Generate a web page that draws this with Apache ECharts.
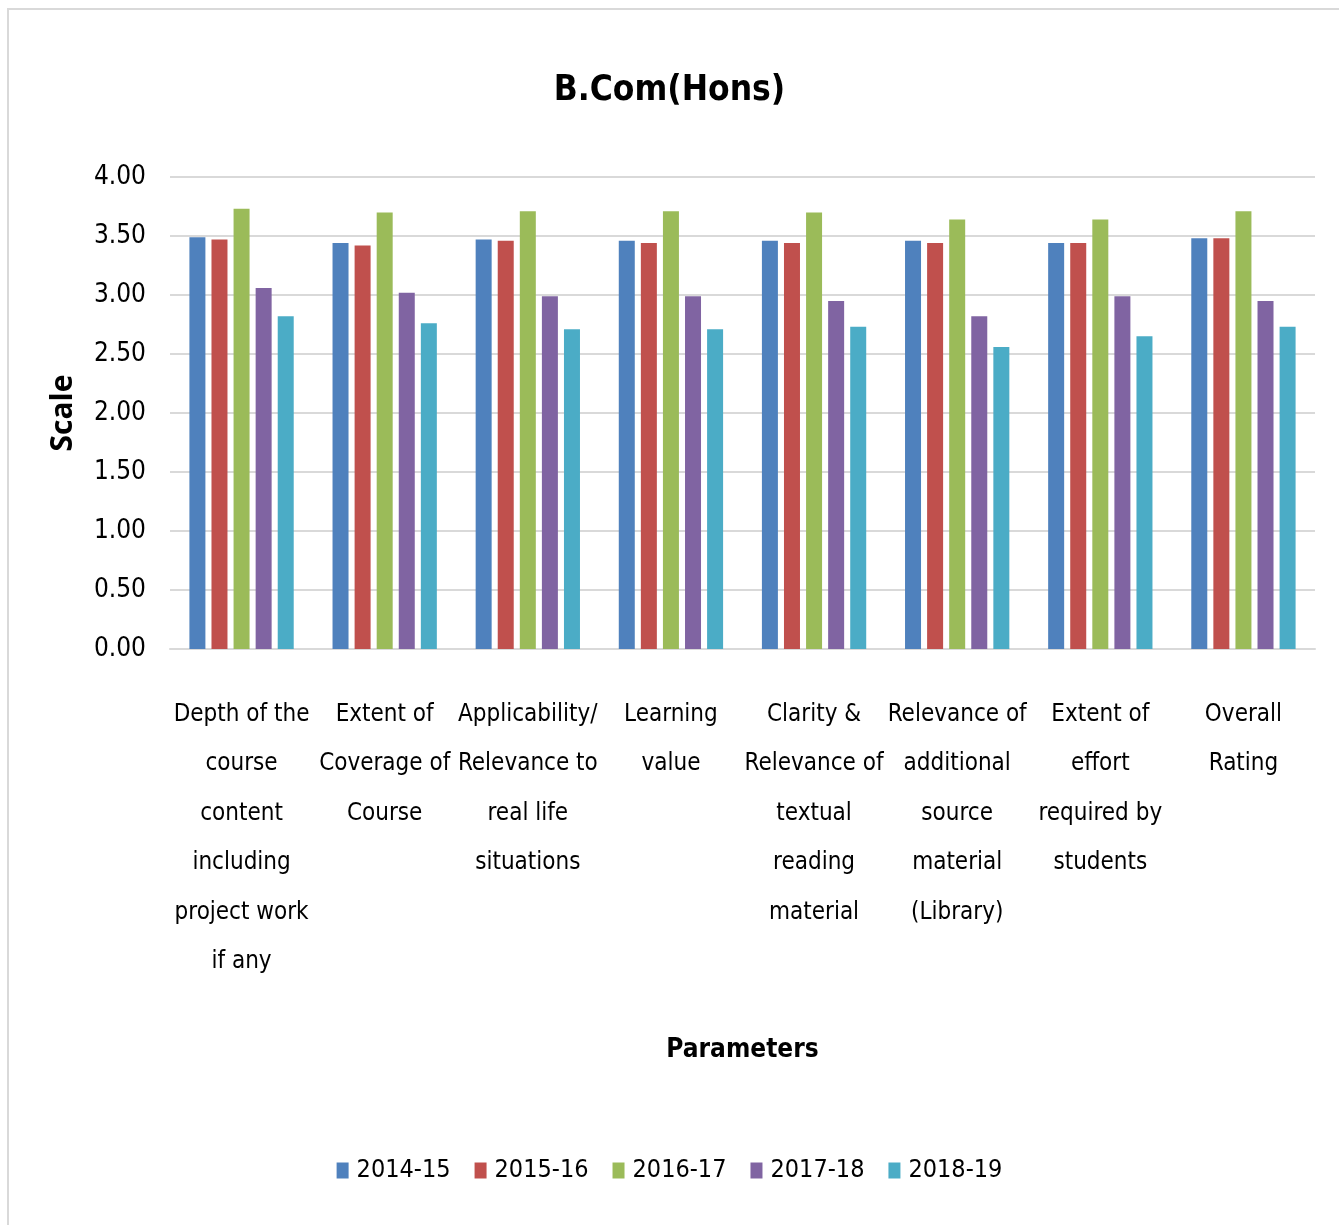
<!DOCTYPE html>
<html>
<head>
<meta charset="utf-8">
<script src="https://cdn.jsdelivr.net/npm/echarts@6/dist/echarts.min.js"></script>
<style>
html,body{margin:0;padding:0;background:#fff;}
#chart{width:1339px;height:1225px;}
</style>
</head>
<body>
<div id="chart"></div>
<script>
const categories = [
  "Depth of the\ncourse\ncontent\nincluding\nproject work\nif any",
  "Extent of\nCoverage of\nCourse",
  "Applicability/\nRelevance to\nreal life\nsituations",
  "Learning\nvalue",
  "Clarity &\nRelevance of\ntextual\nreading\nmaterial",
  "Relevance of\nadditional\nsource\nmaterial\n(Library)",
  "Extent of\neffort\nrequired by\nstudents",
  "Overall\nRating"
];
const seriesNames = ["2014-15", "2015-16", "2016-17", "2017-18", "2018-19"];
const v2014_15 = [3.49, 3.44, 3.47, 3.46, 3.46, 3.46, 3.44, 3.48];
const v2015_16 = [3.47, 3.42, 3.46, 3.44, 3.44, 3.44, 3.44, 3.48];
const v2016_17 = [3.73, 3.70, 3.71, 3.71, 3.70, 3.64, 3.64, 3.71];
const v2017_18 = [3.06, 3.02, 2.99, 2.99, 2.95, 2.82, 2.99, 2.95];
const v2018_19 = [2.82, 2.76, 2.71, 2.71, 2.73, 2.56, 2.65, 2.73];
const yTicks = ["0.00","0.50","1.00","1.50","2.00","2.50","3.00","3.50","4.00"];

const seriesValues = [v2014_15, v2015_16, v2016_17, v2017_18, v2018_19];
const colors = ["#4F81BD", "#C0504D", "#9BBB59", "#8064A2", "#4BACC6"];
const narrow = '"Liberation Sans Narrow", "DejaVu Sans Condensed", "Arial Narrow", sans-serif';

const chart = echarts.init(document.getElementById('chart'), null, {renderer: 'canvas'});
chart.setOption({
  backgroundColor: '#fff',
  color: colors,
  animation: false,
  graphic: [{
    type: 'rect',
    shape: {x: 8, y: 9, width: 1400, height: 1300},
    style: {fill: 'none', stroke: '#d9d9d9', lineWidth: 2},
    z: -10
  }],
  title: {
    text: 'B.Com(Hons)',
    left: 'center',
    top: 68,
    textStyle: {fontFamily: narrow, fontSize: 35, fontWeight: 'bold', color: '#000'}
  },
  legend: {
    data: seriesNames,
    bottom: 37,
    left: 'center',
    itemWidth: 12,
    itemHeight: 16,
    itemGap: 24,
    icon: 'rect',
    textStyle: {fontFamily: narrow, fontSize: 25, color: '#000', padding: [0, 0, 0, 3]}
  },
  grid: {left: 170, right: 24, top: 177, bottom: 576, containLabel: false},
  xAxis: {
    type: 'category',
    data: categories,
    name: 'Parameters',
    nameLocation: 'middle',
    nameGap: 388,
    nameTextStyle: {fontFamily: narrow, fontSize: 26, fontWeight: 'bold', color: '#000'},
    axisLine: {show: true, lineStyle: {color: '#d9d9d9', width: 2}},
    axisTick: {show: false},
    axisLabel: {
      interval: 0,
      margin: 41,
      fontFamily: narrow,
      fontSize: 24,
      lineHeight: 49.5,
      color: '#000',
      align: 'center'
    }
  },
  yAxis: {
    type: 'value',
    min: 0,
    max: 4,
    interval: 0.5,
    name: 'Scale',
    nameLocation: 'middle',
    nameGap: 92,
    nameRotate: 90,
    nameTextStyle: {fontFamily: '"Open Sans", "DejaVu Sans", sans-serif', fontSize: 30, fontWeight: 'bold', color: '#000'},
    axisLine: {show: false},
    axisTick: {show: false},
    splitLine: {lineStyle: {color: '#d9d9d9', width: 2}},
    axisLabel: {
      margin: 24,
      fontFamily: narrow,
      fontSize: 26,
      color: '#000',
      formatter: function (v) { return yTicks[Math.round(v / 0.5)]; }
    }
  },
  series: seriesNames.map(function (n, i) {
    return {
      name: n,
      type: 'bar',
      data: seriesValues[i],
      barWidth: 16,
      barGap: '38%',
      itemStyle: {color: colors[i]}
    };
  })
});
</script>
</body>
</html>
